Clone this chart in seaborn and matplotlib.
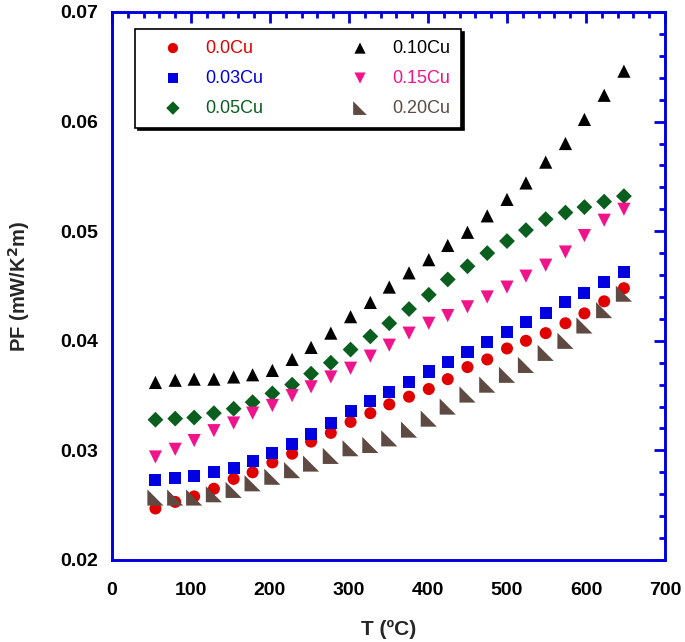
import numpy as np
import pandas as pd
import matplotlib
matplotlib.use("Agg")
import matplotlib.pyplot as plt
from matplotlib.ticker import MultipleLocator
import seaborn as sns

T = [55, 80, 104, 129, 154, 178, 203, 228, 252, 277, 302, 327, 351,
     376, 401, 425, 450, 475, 500, 524, 549, 574, 598, 623, 648]

pf_000 = [0.0247, 0.0253, 0.0258, 0.0265, 0.0274, 0.0280, 0.0289, 0.0297, 0.0308,
          0.0316, 0.0326, 0.0334, 0.0342, 0.0349, 0.0356, 0.0365, 0.0376, 0.0383,
          0.0393, 0.0400, 0.0407, 0.0416, 0.0425, 0.0436, 0.0448]
pf_003 = [0.0273, 0.0275, 0.0277, 0.0280, 0.0284, 0.0290, 0.0298, 0.0306, 0.0315,
          0.0325, 0.0336, 0.0345, 0.0353, 0.0362, 0.0372, 0.0381, 0.0390, 0.0399,
          0.0408, 0.0417, 0.0425, 0.0435, 0.0444, 0.0454, 0.0463]
pf_005 = [0.0328, 0.0329, 0.0330, 0.0334, 0.0338, 0.0344, 0.0352, 0.0360, 0.0370,
          0.0380, 0.0392, 0.0404, 0.0416, 0.0429, 0.0442, 0.0456, 0.0468, 0.0480,
          0.0491, 0.0501, 0.0511, 0.0517, 0.0522, 0.0527, 0.0532]
pf_010 = [0.0362, 0.0364, 0.0365, 0.0365, 0.0367, 0.0369, 0.0373, 0.0383, 0.0394,
          0.0407, 0.0422, 0.0435, 0.0449, 0.0462, 0.0474, 0.0487, 0.0499, 0.0514,
          0.0529, 0.0544, 0.0563, 0.0580, 0.0602, 0.0624, 0.0646]
pf_015 = [0.0294, 0.0301, 0.0309, 0.0318, 0.0325, 0.0334, 0.0341, 0.0350, 0.0358,
          0.0367, 0.0375, 0.0386, 0.0396, 0.0407, 0.0416, 0.0423, 0.0431, 0.0440,
          0.0449, 0.0459, 0.0469, 0.0481, 0.0496, 0.0510, 0.0520]
pf_020 = [0.0257, 0.0257, 0.0257, 0.0260, 0.0264, 0.0270, 0.0276, 0.0282, 0.0288,
          0.0295, 0.0302, 0.0305, 0.0311, 0.0319, 0.0329, 0.0340, 0.0351, 0.0360,
          0.0369, 0.0378, 0.0389, 0.0400, 0.0414, 0.0428, 0.0443]

labels = ["0.0Cu", "0.03Cu", "0.05Cu", "0.10Cu", "0.15Cu", "0.20Cu"]
series = [pf_000, pf_003, pf_005, pf_010, pf_015, pf_020]
colors = ["#E00000", "#0000E0", "#0A5E1E", "#000000", "#F0148C", "#5E4A42"]
rtri = [(-1, 1), (-1, -1), (1, -1), (-1, 1)]
markers = ["o", "s", "D", "^", "v", rtri]
sizes = [75, 75, 65, 90, 90, 135]

sns.set_style("white")
plt.rcParams["font.family"] = ["Liberation Sans", "DejaVu Sans"]

fig = plt.figure(figsize=(6.85, 6.42), dpi=100)
ax = fig.add_axes([112/685, 1-560/642, (665-112)/685, (560-12)/642])

for lab, ys, c, m, s in zip(labels, series, colors, markers, sizes):
    df = pd.DataFrame({"T": T, "PF": ys})
    sns.scatterplot(data=df, x="T", y="PF", ax=ax, color=c, marker=m, s=s,
                    edgecolor="none", linewidth=0, label=lab)

ax.set_xlim(0, 700)
ax.set_ylim(0.02, 0.07)
ax.xaxis.set_major_locator(MultipleLocator(100))
ax.xaxis.set_minor_locator(MultipleLocator(20))
ax.yaxis.set_major_locator(MultipleLocator(0.01))
ax.yaxis.set_minor_locator(MultipleLocator(0.002))
ax.set_xticklabels([f"{int(v)}" for v in ax.get_xticks()])
ax.set_yticklabels([f"{v:.2f}" for v in ax.get_yticks()])

for sp in ax.spines.values():
    sp.set_color("#0000DD")
    sp.set_linewidth(2.1)
    sp.set_visible(True)

ax.tick_params(which="both", direction="in", top=True, right=True,
               color="#0000DD", labelcolor="black")
ax.tick_params(which="major", length=8, width=2.0, labelsize=14)
ax.tick_params(which="minor", length=4.5, width=2.0)
ax.tick_params(axis="x", which="major", pad=16)
ax.tick_params(axis="y", which="major", pad=10)
for t in ax.get_xticklabels() + ax.get_yticklabels():
    t.set_fontweight("bold")

ax.set_xlabel("T (ºC)", fontsize=15, fontweight="bold", labelpad=15)
ax.set_ylabel("PF (mW/K$^\\mathbf{2}$m)", fontsize=14.5, fontweight="bold", labelpad=20)

leg = ax.legend(ncol=2, loc="upper left", bbox_to_anchor=(0.0416, 0.969),
                borderaxespad=0,
                frameon=True, fancybox=False,
                shadow={"color": "black", "alpha": 1.0}, edgecolor="black",
                fontsize=13, handletextpad=0.3, columnspacing=3.85,
                labelspacing=0.72, borderpad=0.6, handlelength=3.0,
                markerscale=0.85)
leg.get_frame().set_linewidth(1.2)
for txt, c in zip(leg.get_texts(), colors):
    txt.set_color(c)

fig.savefig("out.png", dpi=100)
